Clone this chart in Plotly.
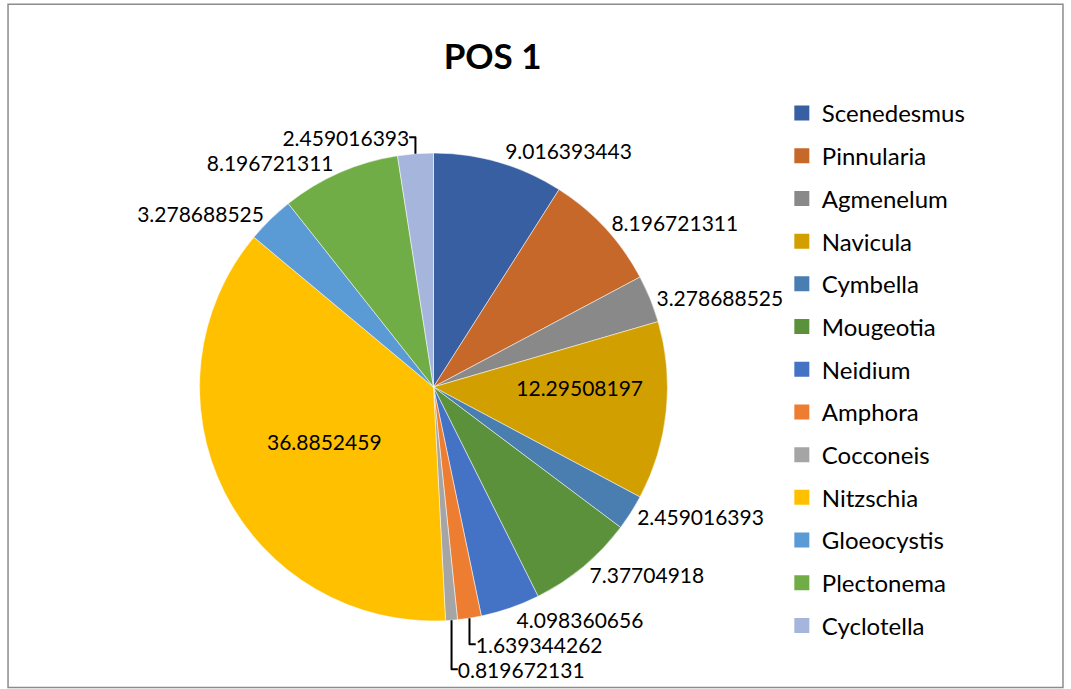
import plotly.graph_objects as go

# genera and their share at POS 1
genera = ["Scenedesmus", "Pinnularia", "Agmenelum", "Navicula", "Cymbella", "Mougeotia",
          "Neidium", "Amphora", "Cocconeis", "Nitzschia", "Gloeocystis", "Plectonema", "Cyclotella"]
shares = [9.016393443, 8.196721311, 3.278688525, 12.29508197, 2.459016393, 7.37704918,
          4.098360656, 1.639344262, 0.819672131, 36.8852459, 3.278688525, 8.196721311, 2.459016393]
colors = ["#385FA2", "#C5682A", "#898989", "#D29F00", "#4A7EB1", "#5B913B",
          "#4472C4", "#ED7D31", "#A5A5A5", "#FFC000", "#5B9BD5", "#70AD47", "#A6B5DB"]
inside = ["Navicula", "Nitzschia"]

fnt = "Lato, Carlito, Calibri, sans-serif"

fig = go.Figure()
fig.add_trace(go.Pie(
    labels=genera, values=shares, text=[str(v) for v in shares], textinfo="text",
    sort=False, direction="clockwise", rotation=0,
    marker=dict(colors=colors, line=dict(color="white", width=0.5)),
    textposition=["inside" if g in inside else "outside" for g in genera],
    textfont=dict(family=fnt, size=21, color="black"),
    insidetextorientation="horizontal",
    showlegend=False, domain=dict(x=[0.1863, 0.6232], y=[0.0987, 0.7779]),
))

# legend entries, one group each so the gap can be set
for g, c in zip(genera, colors):
    fig.add_trace(go.Scatter(x=[None], y=[None], mode="markers", name=g, legendgroup=g,
                             marker=dict(symbol="square", size=15, color=c)))

fig.update_xaxes(visible=False)
fig.update_yaxes(visible=False)
fig.update_layout(
    width=1071, height=689, margin=dict(l=0, r=0, t=0, b=0, autoexpand=False),
    paper_bgcolor="white", plot_bgcolor="white",
    font=dict(family=fnt, size=20, color="black"),
    title=dict(text="<b>POS 1</b>", x=0.46, xanchor="center", y=0.918, yanchor="middle",
               font=dict(family=fnt, size=35, color="black")),
    legend=dict(x=0.73, xanchor="left", y=0.868, yanchor="top", tracegroupgap=8.5,
                bgcolor="rgba(0,0,0,0)", font=dict(family=fnt, size=24), itemwidth=30),
    shapes=[dict(type="rect", xref="paper", yref="paper", x0=0.0075, x1=0.9925, y0=0.002, y1=0.994,
                 line=dict(color="#8c8c8c", width=1.5))],
)
# drop the page's default body margin so the figure sits at the window's corner
fig.write_html("out.html", config={"displayModeBar": False},
               post_script="document.body.style.margin='0';")
